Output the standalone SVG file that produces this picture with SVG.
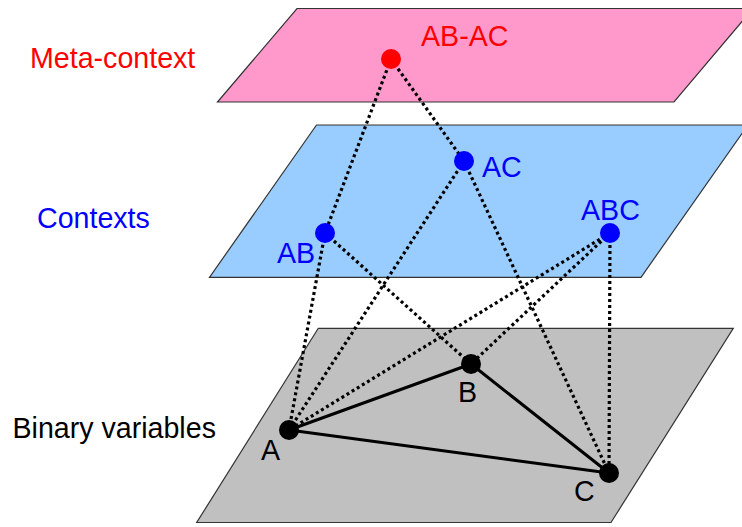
<svg xmlns="http://www.w3.org/2000/svg" width="742" height="527" viewBox="0 0 742 527">
<style>
.plane{stroke:#333;stroke-width:1.2;stroke-linejoin:miter}
.dot{fill:none;stroke:#000;stroke-width:3.2;stroke-dasharray:3 3}
.solid{fill:none;stroke:#000;stroke-width:3;stroke-linecap:round}
text{font-family:"Liberation Sans",Arial,sans-serif;font-size:28.6px}
.red{fill:#ff0000}.blue{fill:#0000ff}.blk{fill:#000}
</style>
<rect width="742" height="527" fill="#fff"/>
<g id="planes">
<polygon id="plane-meta" class="plane" fill="#ff99cc" points="297,8.5 753,8.5 674,102 217.5,102"/>
<polygon id="plane-contexts" class="plane" fill="#99ccff" points="316.5,125 748,125 641,277.3 209.5,277.3"/>
<polygon id="plane-binary" class="plane" fill="#c0c0c0" points="318.3,328.3 733.3,328.3 611,522.5 196.7,522.5"/>
</g>
<g id="layer-labels">
<text class="red" x="30" y="68">Meta-context</text>
<text class="blue" x="37" y="228">Contexts</text>
<text class="blk" x="12.5" y="438">Binary variables</text>
</g>
<g id="connectors">
<line class="dot" x1="391" y1="59" x2="325" y2="233"/>
<line class="dot" x1="391" y1="59" x2="464" y2="161"/>
<line class="dot" x1="325" y1="233" x2="289" y2="430"/>
<line class="dot" x1="325" y1="233" x2="471" y2="364"/>
<line class="dot" x1="464" y1="161" x2="289" y2="430"/>
<line class="dot" x1="464" y1="161" x2="609" y2="473"/>
<line class="dot" x1="610" y1="233" x2="289" y2="430"/>
<line class="dot" x1="610" y1="233" x2="471" y2="364"/>
<line class="dot" x1="610" y1="233" x2="609" y2="473"/>
<line class="solid" x1="289" y1="430" x2="471" y2="364"/>
<line class="solid" x1="471" y1="364" x2="609" y2="473"/>
<line class="solid" x1="289" y1="430" x2="609" y2="473"/>
</g>
<g id="node-ABAC"><circle cx="391" cy="59" r="10" fill="#ff0000"/><text class="red" x="421" y="46">AB-AC</text></g>
<g id="node-AB"><circle cx="325" cy="233" r="10" fill="#0000ff"/><text class="blue" x="277" y="263">AB</text></g>
<g id="node-AC"><circle cx="464" cy="161" r="10" fill="#0000ff"/><text class="blue" x="482" y="177">AC</text></g>
<g id="node-ABC"><circle cx="610" cy="233" r="10" fill="#0000ff"/><text class="blue" x="581" y="220">ABC</text></g>
<g id="node-A"><circle cx="289" cy="430" r="10" fill="#000"/><text class="blk" x="261" y="460">A</text></g>
<g id="node-B"><circle cx="471" cy="364" r="10" fill="#000"/><text class="blk" x="458" y="402">B</text></g>
<g id="node-C"><circle cx="609" cy="473" r="10" fill="#000"/><text class="blk" x="574" y="501">C</text></g>
</svg>
